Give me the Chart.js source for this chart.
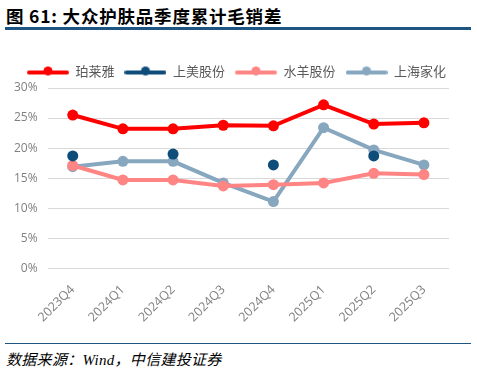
<!DOCTYPE html>
<html>
<head>
<meta charset="utf-8">
<script src="https://cdn.jsdelivr.net/npm/chart.js@4/dist/chart.umd.min.js"></script>
<style>
  html, body { margin: 0; padding: 0; background: #fff; width: 477px; height: 374px; overflow: hidden; }
  #title { position: absolute; left: 6px; top: 3px; font-family: "Noto Sans CJK SC", sans-serif; font-weight: bold; font-size: 17.5px; color: #000; letter-spacing: 0.8px; }
  #rule1 { position: absolute; left: 5px; top: 27px; width: 466px; height: 3px; background: #1F5582; }
  #rule2 { position: absolute; left: 5px; top: 343px; width: 466px; height: 1px; background: #1F5582; }
  #source { position: absolute; left: 6px; top: 348px; font-family: "Liberation Serif", "Noto Sans CJK SC", serif; font-style: italic; font-size: 15px; color: #000; letter-spacing: 0.3px; }
  #wrap { position: absolute; left: 0; top: 55px; width: 477px; height: 276px; }
</style>
</head>
<body>
<div id="title">图 61: 大众护肤品季度累计毛销差</div>
<div id="rule1"></div>
<div id="wrap"><canvas id="c"></canvas></div>
<div id="rule2"></div>
<div id="source">数据来源：Wind，中信建投证券</div>
<script>
const categories = ['2023Q4','2024Q1','2024Q2','2024Q3','2024Q4','2025Q1','2025Q2','2025Q3'];
const proya = [25.5, 23.2, 23.2, 23.8, 23.7, 27.2, 24.0, 24.2];
const shangmei = [18.7, null, 19.0, null, 17.2, null, 18.7, null];
const shuiyang = [17.1, 14.7, 14.7, 13.7, 13.9, 14.2, 15.8, 15.6];
const jahwa = [16.9, 17.8, 17.8, 14.2, 11.1, 23.4, 19.7, 17.2];
const seriesNames = ['珀莱雅', '上美股份', '水羊股份', '上海家化'];
const yTicks = [0, 5, 10, 15, 20, 25, 30];

const colors = ['#FF0000', '#0E4C7A', '#FF8585', '#87A7BF'];

function legendIcon(color) {
  const cv = document.createElement('canvas');
  cv.width = 42; cv.height = 12;
  const g = cv.getContext('2d');
  g.strokeStyle = color; g.lineWidth = 4; g.lineCap = 'round';
  g.beginPath(); g.moveTo(2, 7); g.lineTo(40, 7); g.stroke();
  g.fillStyle = color;
  g.beginPath(); g.arc(21, 5.5, 4.5, 0, Math.PI * 2); g.fill();
  return cv;
}
const icons = colors.map(legendIcon);

const dataArrays = [proya, shangmei, shuiyang, jahwa];
const datasets = dataArrays.map((arr, i) => ({
  label: seriesNames[i],
  data: arr,
  borderColor: colors[i],
  backgroundColor: colors[i],
  borderWidth: 4,
  pointRadius: 5.5,
  pointHoverRadius: 5.5,
  pointBorderWidth: 0,
  showLine: i !== 1,
  spanGaps: false,
  tension: 0
}));

const legendShift = {
  id: 'legendShift',
  afterLayout(chart) {
    if (chart.legend) { chart.legend.left += 10; chart.legend.right += 10; }
  }
};

new Chart(document.getElementById('c'), {
  type: 'line',
  data: { labels: categories, datasets: datasets },
  plugins: [legendShift],
  options: {
    responsive: true,
    maintainAspectRatio: false,
    animation: false,
    layout: { padding: { left: 4, right: 28, top: 0, bottom: 0 } },
    plugins: {
      tooltip: { enabled: false },
      legend: {
        position: 'top',
        labels: {
          usePointStyle: true,
          pointStyleWidth: 42,
          boxHeight: 12,
          padding: 10,
          color: '#595959',
          font: { family: '"Noto Sans CJK SC", sans-serif', size: 13 },
          generateLabels(chart) {
            const items = Chart.defaults.plugins.legend.labels.generateLabels(chart);
            items.forEach((it, i) => { it.pointStyle = icons[i]; });
            return items;
          }
        }
      }
    },
    scales: {
      x: {
        offset: true,
        grid: { display: false },
        border: { display: false },
        ticks: {
          color: '#808080',
          maxRotation: 45,
          minRotation: 45,
          font: { family: '"Open Sans", sans-serif', size: 12.5 },
          padding: 6
        }
      },
      y: {
        min: 0,
        max: 30,
        afterBuildTicks(axis) { axis.ticks = yTicks.map(v => ({ value: v })); },
        grid: { color: '#D9D9D9', lineWidth: 1, drawTicks: false },
        border: { display: false },
        ticks: {
          color: '#808080',
          padding: 10,
          font: { family: '"Open Sans", sans-serif', size: 12 },
          callback: v => v + '%'
        }
      }
    }
  }
});
</script>
</body>
</html>
